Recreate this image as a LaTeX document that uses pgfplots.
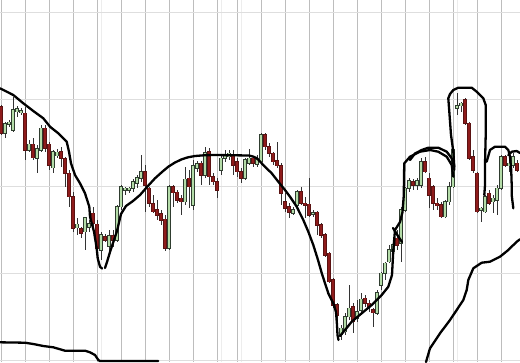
\documentclass[border=0pt]{standalone}
\usepackage{pgfplots}
\usepackage{pgfplotstable}
\pgfplotsset{compat=1.18}
\definecolor{redfill}{HTML}{8E1B1B}
\definecolor{redline}{HTML}{5A1212}
\definecolor{greenfill}{HTML}{B4DCA8}
\definecolor{greenline}{HTML}{2F3D2F}
\definecolor{wick}{HTML}{333333}
\definecolor{vgrid}{HTML}{BDBDBD}
\definecolor{hgrid}{HTML}{DEDEDE}
\pgfplotstableread{
x bt bb wt wb
1.3 106.7 133.3 105 135
25.3 113.3 150 106.7 160
33.3 144.3 157.7 138.3 160
45.3 128.3 148.3 125 151.7
49.3 144.3 165 141.7 170
61.3 151.7 158.3 146.7 166.7
65.3 159 173.3 156.7 186.7
69.3 173.3 196.7 170 206.7
73.3 196.7 228.3 191.7 231.7
81.3 229 233.3 226.7 238.3
93.3 213.3 223.3 206.7 231.7
97.3 224.3 248.3 220 258.3
105.3 236.7 240 234 242
113.3 236 240 230 246.7
145.3 171.7 185 165 211.7
149.3 188.3 203.3 186.7 206.7
153.3 204 211.7 195 213.3
157.3 210 215 200 220
161.3 214 220 210 225
165.3 219.3 248.3 215 250.7
173.3 186.7 192.7 185 206.7
177.3 192.3 200 190 203.3
181.3 198.3 201.7 195 215
189.3 178.3 186.7 170 208.3
201.3 163.3 175 160.7 185
209.3 151.7 176.7 148.3 185
213.3 176.7 181.7 173.3 185
217.3 181.7 190 178.3 198.3
233.3 155.7 165 150 175
237.3 161.7 171.7 158.3 176.7
241.3 171.7 178.3 168.3 183.3
253.3 158.3 163.3 156.7 166.7
265.3 135 146.7 133.3 150
269.3 146.7 153.3 143.3 156.7
273.3 153.3 161.7 151.7 165
277.3 161 165.7 141.7 168.3
281.3 165.7 193.3 163.3 205
285.3 201.7 208.3 193.3 211.7
289.3 206.7 212.3 203.3 217.7
301.3 191.7 203.3 186.7 205
305.3 203.3 205 196.7 218.3
309.3 204.3 215 178.3 216.7
317.3 212.3 225 211 235
321.3 225 235 223 238
325.3 235 255 233.3 256.7
329.3 253.3 281.7 251.7 283.3
333.3 280 305 278.3 308.3
337.3 305 315 303.3 333.3
353.3 306.7 321.7 303.3 333.3
365.3 298.3 303.3 295 306.7
369.3 303.3 306.7 300 311.7
373.3 310 312.7 308.3 326.7
397.3 238.3 245 230 250
413.3 181.7 185 179.3 190
425.3 161.7 171.7 156.7 173.3
429.3 178.3 195 173.3 208.3
433.3 186.7 203.3 185 210
437.3 203.3 205.5 198.3 210
441.3 205 216.7 201.7 218.3
465.3 100 123.3 98.3 125
469.3 123.3 158.3 121.7 160
473.3 156.7 170 150 173.3
477.3 173.3 211.7 171.7 213.3
489.3 193.3 203.3 190 205
505.3 156.7 165 155 166.7
517.3 163.3 170 160 172.3
}\redtab
\pgfplotstableread{
x bt bb wt wb
5.3 124 133 121.7 138.3
9.3 122.3 124.3 120 126.7
13.3 110 130 96.7 131.7
17.3 109 111.7 105.7 116.7
21.3 111 112.3 107.7 115
29.3 144.3 150 140 151.7
37.3 149 158.3 145 173.3
41.3 128.3 150 125 151.7
53.3 151.7 167.7 150 173.3
57.3 152.3 155.7 149 158.3
77.3 224.3 227.7 218.3 235
85.3 217.7 231.7 216.7 250
89.3 224 227 220 232
101.3 235 250 231.7 260
109.3 236 246 230 255
117.3 206.7 240 205 241.7
121.3 186.7 206.7 185 210
125.3 188.3 190 186.7 195
129.3 188.3 190 186.7 193.3
133.3 181.7 188.3 179.3 191.7
137.3 177.7 183.3 175 188.3
141.3 171.7 178.3 155 181.7
169.3 186.7 248.3 185 250
185.3 179.3 201.7 166.7 205
193.3 166 205 160 210
197.3 164 168.3 160.7 171.7
205.3 152.7 175 146.7 178.3
221.3 158.3 170 155.7 175
225.3 154.3 158.3 150 161.7
229.3 153.3 156.7 150 160
245.3 160 178.3 158.3 180
249.3 158.3 163.3 149 165
257.3 160 164.3 155 166.7
261.3 135 161.7 133.3 165
293.3 210 213.3 206.7 215
297.3 191.7 205 190 206.7
313.3 212.5 214 210 216.7
341.3 328.3 334 325 340
345.3 316.7 331.7 313.3 335
349.3 308.3 316.7 285 320
357.3 311.7 318.3 300 321.7
361.3 299.3 310 293.3 311.7
377.3 292.7 313.3 290 315
381.3 273.3 285 271.7 290
385.3 263.3 273.3 261.7 280
389.3 250 261.7 245 263.3
393.3 245 251.7 238.3 255
401.3 210 243.3 206.7 261.7
405.3 188.3 210 186.7 211.7
409.3 180.7 188.3 178.3 191.7
417.3 181 185 178.3 190
421.3 161.7 185 158.3 188.3
445.3 201.7 216.7 200 218.3
449.3 186.7 201.7 181.7 205
453.3 150 186.7 148.3 188.3
457.3 105.7 108.3 93.3 115
461.3 103.3 105.7 101.7 111.7
481.3 208.3 210 206.7 221.7
485.3 196.7 211.7 195 213.3
493.3 198.3 201.7 195 213.3
497.3 188.3 200 185 215
501.3 156.7 188.3 155 190
509.3 163.3 165.7 160 172.3
513.3 156.7 165 153.3 168.3
}\greentab
\pgfplotsset{
  wickplot/.style={draw=none, mark=none, forget plot,
    error bars/.cd, y dir=both, y explicit, error mark=none,
    error bar style={line width=1bp, draw=wick, solid}},
  bodyplot/.style 2 args={draw=none, mark=none, forget plot,
    error bars/.cd, y dir=both, y explicit, error mark=none,
    error bar style={line width=#2, draw=#1, solid}},
  hand/.style={color=black, line width=2.3bp, line join=round, line cap=round, mark=none, forget plot},
}
\begin{document}
\begin{tikzpicture}
\begin{axis}[name=ax,
  width=520bp, height=362bp, scale only axis,
  xmin=0, xmax=520, ymin=0, ymax=362, y dir=reverse,
  axis line style={draw=none},
  xtick=\empty, ytick=\empty,
  clip=true,
]
% grid lines
\addplot[ycomb, vgrid, line width=1bp, mark=none, forget plot] coordinates {(1.7,362) (25.7,362) (49.7,362) (73.7,362) (97.7,362) (121.7,362) (145.7,362) (169.7,362) (193.7,362) (217.5,362) (237.5,362) (261.7,362) (285.7,362) (309.7,362) (333.7,362) (357.7,362) (381.7,362) (405.7,362) (429.7,362) (453.7,362) (477.7,362) (501.7,362)};
\addplot[ycomb, black!7, line width=0.8bp, mark=none, forget plot] coordinates {(101,362) (221.5,362) (241.5,362) (457.7,362)};
\addplot[xcomb, hgrid, line width=1bp, mark=none, forget plot] coordinates {(520,12.5) (520,99.5) (520,186.5) (520,273) (520,360)};
% wicks
\addplot[wickplot] table[x=x, y expr={(\thisrow{wt}+\thisrow{wb})/2}, y error expr={(\thisrow{wb}-\thisrow{wt})/2}] \redtab;
\addplot[wickplot] table[x=x, y expr={(\thisrow{wt}+\thisrow{wb})/2}, y error expr={(\thisrow{wb}-\thisrow{wt})/2}] \greentab;
% body outlines
\addplot[bodyplot={redline}{3.8bp}] table[x=x, y expr={(\thisrow{bt}+\thisrow{bb})/2}, y error expr={(\thisrow{bb}-\thisrow{bt})/2+0.6}] \redtab;
\addplot[bodyplot={greenline}{3.8bp}] table[x=x, y expr={(\thisrow{bt}+\thisrow{bb})/2}, y error expr={(\thisrow{bb}-\thisrow{bt})/2+0.6}] \greentab;
% body fills
\addplot[bodyplot={redfill}{2.2bp}] table[x=x, y expr={(\thisrow{bt}+\thisrow{bb})/2}, y error expr={(\thisrow{bb}-\thisrow{bt})/2}] \redtab;
\addplot[bodyplot={greenfill}{2.0bp}] table[x=x, y expr={(\thisrow{bt}+\thisrow{bb})/2}, y error expr={(\thisrow{bb}-\thisrow{bt})/2}] \greentab;
% hand outline
\addplot[hand] coordinates {(0,88.3) (13.3,95) (23.3,103.3) (33.3,111) (43.3,118.3) (50,126.7) (58.3,133.3) (66.7,141.7) (69,151.7) (71,163.3) (75,175) (80,183.3) (85,193.3) (89.3,206.7) (90,216.7) (94,231.7) (96.7,248.3) (97.7,258.3) (100,266.7) (102,268.5)};
\addplot[hand] coordinates {(105,268) (107,262) (110,252) (113,243) (117,231) (121,214) (126,206) (133,201) (140,195) (147,187) (155,178.3) (162,172) (168.3,166.7) (175,162.5) (181.7,159.3) (188,157.3) (195,156) (205,155.2) (215,155) (249,155.5) (253,156.5) (257,158.3) (263.3,165) (271.7,173.3) (278.3,181.7) (285,190) (290,196.7) (296.7,206.7) (303.3,220) (308.3,231.7) (313.3,245) (318,260) (322,274) (328.3,293.3) (333.3,303.3) (336,312) (337,325) (337.5,335) (338.5,340)};
\addplot[hand] coordinates {(340,336) (345,330) (351.7,321.7) (361.7,313.3) (371.7,305) (381.7,295) (388.3,286.7) (392,275) (393.3,250) (395,230) (400,222) (402.5,212) (403.8,195) (404,175) (404.3,163.3) (410,156.7) (416.7,153.3) (420,151.7) (430,150) (438.3,151.7) (446.7,156.7) (451.7,165) (453.3,176.7)};
\addplot[hand] coordinates {(393,228) (398,236) (402,242)};
\addplot[hand] coordinates {(410,160) (415,153.5) (421.7,150) (428.3,147.7) (438.3,147.7) (446.7,151.7) (451.7,158.3) (454.3,166.7)};
\addplot[hand] coordinates {(454.3,170) (454.3,166.7) (453.3,151.7) (451,135) (449.3,111.7) (448.3,98.3) (450,94) (453.3,90) (458.3,87.7) (471.7,87.7) (476.7,91.7) (483.3,98.3) (485.7,105) (485.7,135) (485,165) (485,185) (484.3,195)};
\addplot[hand] coordinates {(486.7,161.7) (490,150) (495,146.7) (505,146.7) (508.3,150) (510,156.7) (511.2,170) (511.7,185) (511.7,195) (513.3,208.3)};
\addplot[hand] coordinates {(508.3,155) (511.7,151.7) (516.7,151) (520,153)};
\addplot[hand] coordinates {(426,362) (430,348.3) (440,333.3) (450,320) (456.7,310) (463.3,300) (466.7,290) (468.3,280) (473.3,268.3) (481.7,262.7) (490,261.7) (500,256.7) (508.3,250) (516.7,241.7) (520,239.3)};
\addplot[hand] coordinates {(0,342.3) (25,342.7) (33.3,344) (43.3,346) (53.3,347.3) (65,350.7) (85,350.7) (90,352.3) (95,355) (98.3,360) (100,361) (158.3,361)};
\end{axis}
\pgfresetboundingbox
\path[use as bounding box] (ax.south west) rectangle (ax.north east);
\end{tikzpicture}
\end{document}
